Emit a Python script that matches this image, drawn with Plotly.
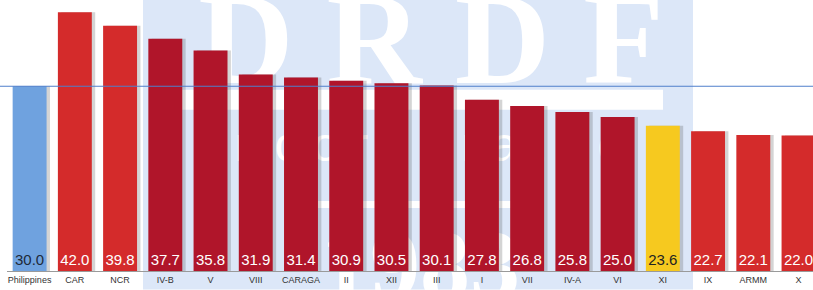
import plotly.graph_objects as go

categories = ["Philippines", "CAR", "NCR", "IV-B", "V", "VIII", "CARAGA", "II", "XII",
              "III", "I", "VII", "IV-A", "VI", "XI", "IX", "ARMM", "X"]
values = [30.0, 42.0, 39.8, 37.7, 35.8, 31.9, 31.4, 30.9, 30.5, 30.1, 27.8, 26.8,
          25.8, 25.0, 23.6, 22.7, 22.1, 22.0]
national_value = 30.0

BLUE = "#6FA2DF"
RED = "#D42B2B"
CRIMSON = "#B0152A"
YELLOW = "#F6C91F"
bar_colors = [BLUE, RED, RED] + [CRIMSON] * 11 + [YELLOW, RED, RED, RED]
text_colors = ["#1E2A3A"] + ["white"] * 13 + ["#222222"] + ["white"] * 3

SANS = "Liberation Sans Narrow, Liberation Sans, Arial, sans-serif"
SERIF = "Liberation Serif, DejaVu Serif, serif"

# plot area geometry (pixels) used for watermark placement
L, T, PW, PH = 7, 0, 806, 271.5


def px(x):
    return (x - L) / PW


def py(y):
    return (T + PH - y) / PH


fig = go.Figure()

# soft shadow on the right of each bar
fig.add_trace(go.Bar(
    x=categories, y=values, width=0.75, offset=-0.30,
    marker=dict(color="rgba(60,60,60,0.22)", line=dict(width=0)),
    hoverinfo="skip", showlegend=False,
))

fig.add_trace(go.Bar(
    x=categories, y=values, width=0.75, offset=-0.375,
    marker=dict(color=bar_colors, line=dict(width=0)),
    text=[f"{v:.1f}" for v in values],
    textposition="inside", insidetextanchor="start",
    textangle=0, constraintext="none",
    textfont=dict(family=SANS, size=15, color=text_colors),
    showlegend=False,
))


def wm_label(text, cx, cy, size, family, bold=False):
    return dict(type="rect", xref="paper", yref="paper",
                x0=px(cx - 300), x1=px(cx + 300), y0=py(cy + 5), y1=py(cy - 5),
                fillcolor="rgba(0,0,0,0)", line=dict(width=0), layer="below",
                label=dict(text=text, textposition="middle center",
                           font=dict(family=family, size=size, color="white",
                                     weight="bold" if bold else "normal")))


shapes = [
    # watermark panel
    dict(type="rect", xref="paper", yref="paper", x0=px(143), x1=px(693),
         y0=py(290), y1=py(0), fillcolor="#DCE7F8", line=dict(width=0), layer="below"),
    dict(type="rect", xref="paper", yref="paper", x0=px(173), x1=px(663),
         y0=py(110), y1=py(90), fillcolor="white", line=dict(width=0), layer="below"),
    dict(type="line", xref="paper", yref="paper", x0=px(308), x1=px(528),
         y0=py(205), y1=py(205), line=dict(color="white", width=7), layer="below"),
    wm_label("D R D F", 431, 80 - 0.42 * 132, 132, SERIF, bold=True),
    wm_label("I n c o r p o r a t e d", 416, 160 - 0.42 * 48, 48,
             "Liberation Sans, Arial, sans-serif"),
    wm_label("1983", 420, 296 - 0.42 * 100, 100, SERIF, bold=True),
    # national average line
    dict(type="line", xref="paper", yref="y", x0=px(0), x1=1.0,
         y0=national_value, y1=national_value,
         line=dict(color="#4F7FCB", width=1.2), layer="above"),
]

fig.update_layout(
    width=813, height=290,
    margin=dict(l=L, r=0, t=T, b=290 - PH),
    paper_bgcolor="white", plot_bgcolor="rgba(0,0,0,0)",
    barmode="overlay",
    shapes=shapes,
    xaxis=dict(
        type="category", range=[-0.5, 17.32],
        showline=True, linecolor="#9A9A9A", linewidth=1,
        showgrid=False, ticks="", zeroline=False,
        tickfont=dict(family="Liberation Sans, Arial, sans-serif", size=9, color="#333333"),
    ),
    yaxis=dict(range=[0, 44.0], visible=False, showgrid=False, zeroline=False),
)

fig.write_html("out.html", config={"displayModeBar": False},
               post_script="document.body.style.margin='0px';")
